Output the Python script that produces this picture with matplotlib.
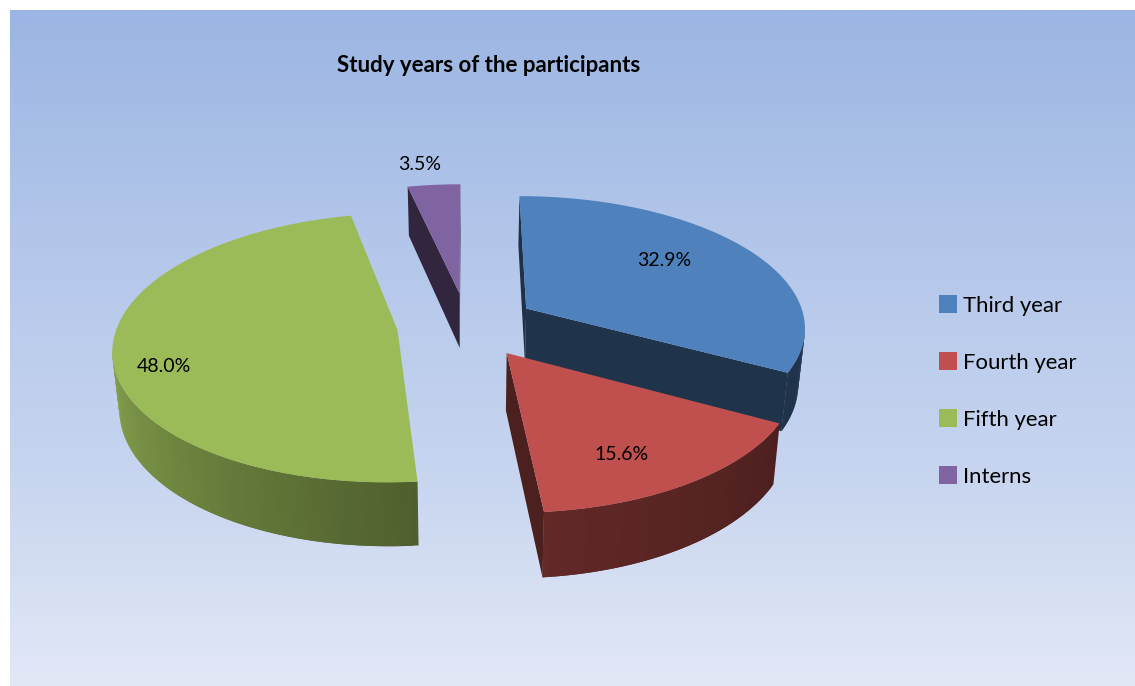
import numpy as np
import matplotlib
matplotlib.use("Agg")
import matplotlib.pyplot as plt
from matplotlib.colors import LinearSegmentedColormap, to_rgb
from matplotlib.patches import Polygon, Rectangle

title = "Study years of the participants"
labels = ["Third year", "Fourth year", "Fifth year", "Interns"]
shares = [32.9, 15.6, 48.0, 3.5]
colors = ["#4f81bd", "#c0504d", "#9bbb59", "#8064a2"]

# where the percent labels and legend rows sit, in pixels
label_xy = [(664, 259), (622, 452), (164, 365), (420, 163)]
legend_y = [304, 361, 418, 475]

plt.rcParams["font.family"] = ["Lato", "DejaVu Sans"]

# projection of the tilted pie onto the page
CX, CY = 467, 325
RX, RY = 280, 131
PERSP = 0.13
EXPLODE = 0.25


def project(u, v, bottom=False):
    w = 1 / (1 - PERSP * v)
    x = RX * u * w
    y = RY * v * w
    if bottom:
        return CX + 0.98 * x, CY + 56 + 1.05 * y
    return CX + x, CY + y


def shade(color, theta):
    # side walls get lighter towards the left of the pie
    f = np.interp(theta, [0, 120, 175, 270, 360], [0.38, 0.40, 0.51, 0.90, 0.90])
    return tuple(np.array(to_rgb(color)) * f)


def faces_viewer(point, normal_deg):
    # normal angle is clockwise from the back of the pie, like the slices
    n = np.radians(normal_deg)
    return np.sin(n) * -point[0] - np.cos(n) * (1 / PERSP - point[1]) > 0


def quad(ax, p, q, color):
    xy = [project(*p), project(*q), project(*q, bottom=True), project(*p, bottom=True)]
    ax.add_patch(Polygon(xy, closed=True, fc=color, ec="none", lw=0))


def draw_slice(ax, start, end, color):
    mid = np.radians((start + end) / 2)
    ou, ov = EXPLODE * np.sin(mid), -EXPLODE * np.cos(mid)
    thetas = np.linspace(start, end, max(int(end - start), 2) + 1)
    rim = [(ou + np.sin(np.radians(t)), ov - np.cos(np.radians(t))) for t in thetas]
    apex = (ou, ov)

    # cut faces, only when they are turned to us
    if faces_viewer(rim[0], start - 90):
        quad(ax, apex, rim[0], shade(color, 0))
    if faces_viewer(rim[-1], end + 90):
        quad(ax, apex, rim[-1], shade(color, end * 0.6 if end < 200 else 0))

    # outer wall, each strip runs under the next so no seams show
    for i in range(len(rim) - 1):
        t = (thetas[i] + thetas[i + 1]) / 2
        if faces_viewer(rim[i], t):
            quad(ax, rim[i], rim[min(i + 2, len(rim) - 1)], shade(color, t))

    top = [project(*apex)] + [project(*p) for p in rim]
    ax.add_patch(Polygon(top, closed=True, fc=color, ec="none", lw=0))


fig = plt.figure(figsize=(11.35, 6.86), dpi=100, facecolor="white")
ax = fig.add_axes([0, 0, 1, 1])
ax.set_xlim(0, 1135)
ax.set_ylim(686, 0)
ax.axis("off")

bg = LinearSegmentedColormap.from_list(
    "bg", ["#9bb6e3", "#b3c6ea", "#c6d4ef", "#e2e8f6"]
)
ax.imshow(np.linspace(0, 1, 256).reshape(-1, 1), cmap=bg, aspect="auto",
          extent=[10, 1135, 686, 10], zorder=0)

edges = np.concatenate([[0], np.cumsum(shares)]) / sum(shares) * 360
spans = list(zip(edges[:-1], edges[1:]))

# back slices first so the front ones overlap them
for i in [3, 0, 2, 1]:
    draw_slice(ax, spans[i][0], spans[i][1], colors[i])

for v, (x, y) in zip(shares, label_xy):
    ax.text(x, y + 2, f"{v:.1f}%", ha="center", va="center", fontsize=14, color="black", zorder=10)

ax.text(489, 65, title, ha="center", va="center", fontsize=16, fontweight="bold",
        color="black", zorder=10)

for name, color, y in zip(labels, colors, legend_y):
    ax.add_patch(Rectangle((939, y - 9), 18, 18, fc=color, ec="none", zorder=10))
    ax.text(963, y + 2, name, ha="left", va="center", fontsize=15.9, color="black", zorder=10)

fig.savefig("out.png", dpi=100)
